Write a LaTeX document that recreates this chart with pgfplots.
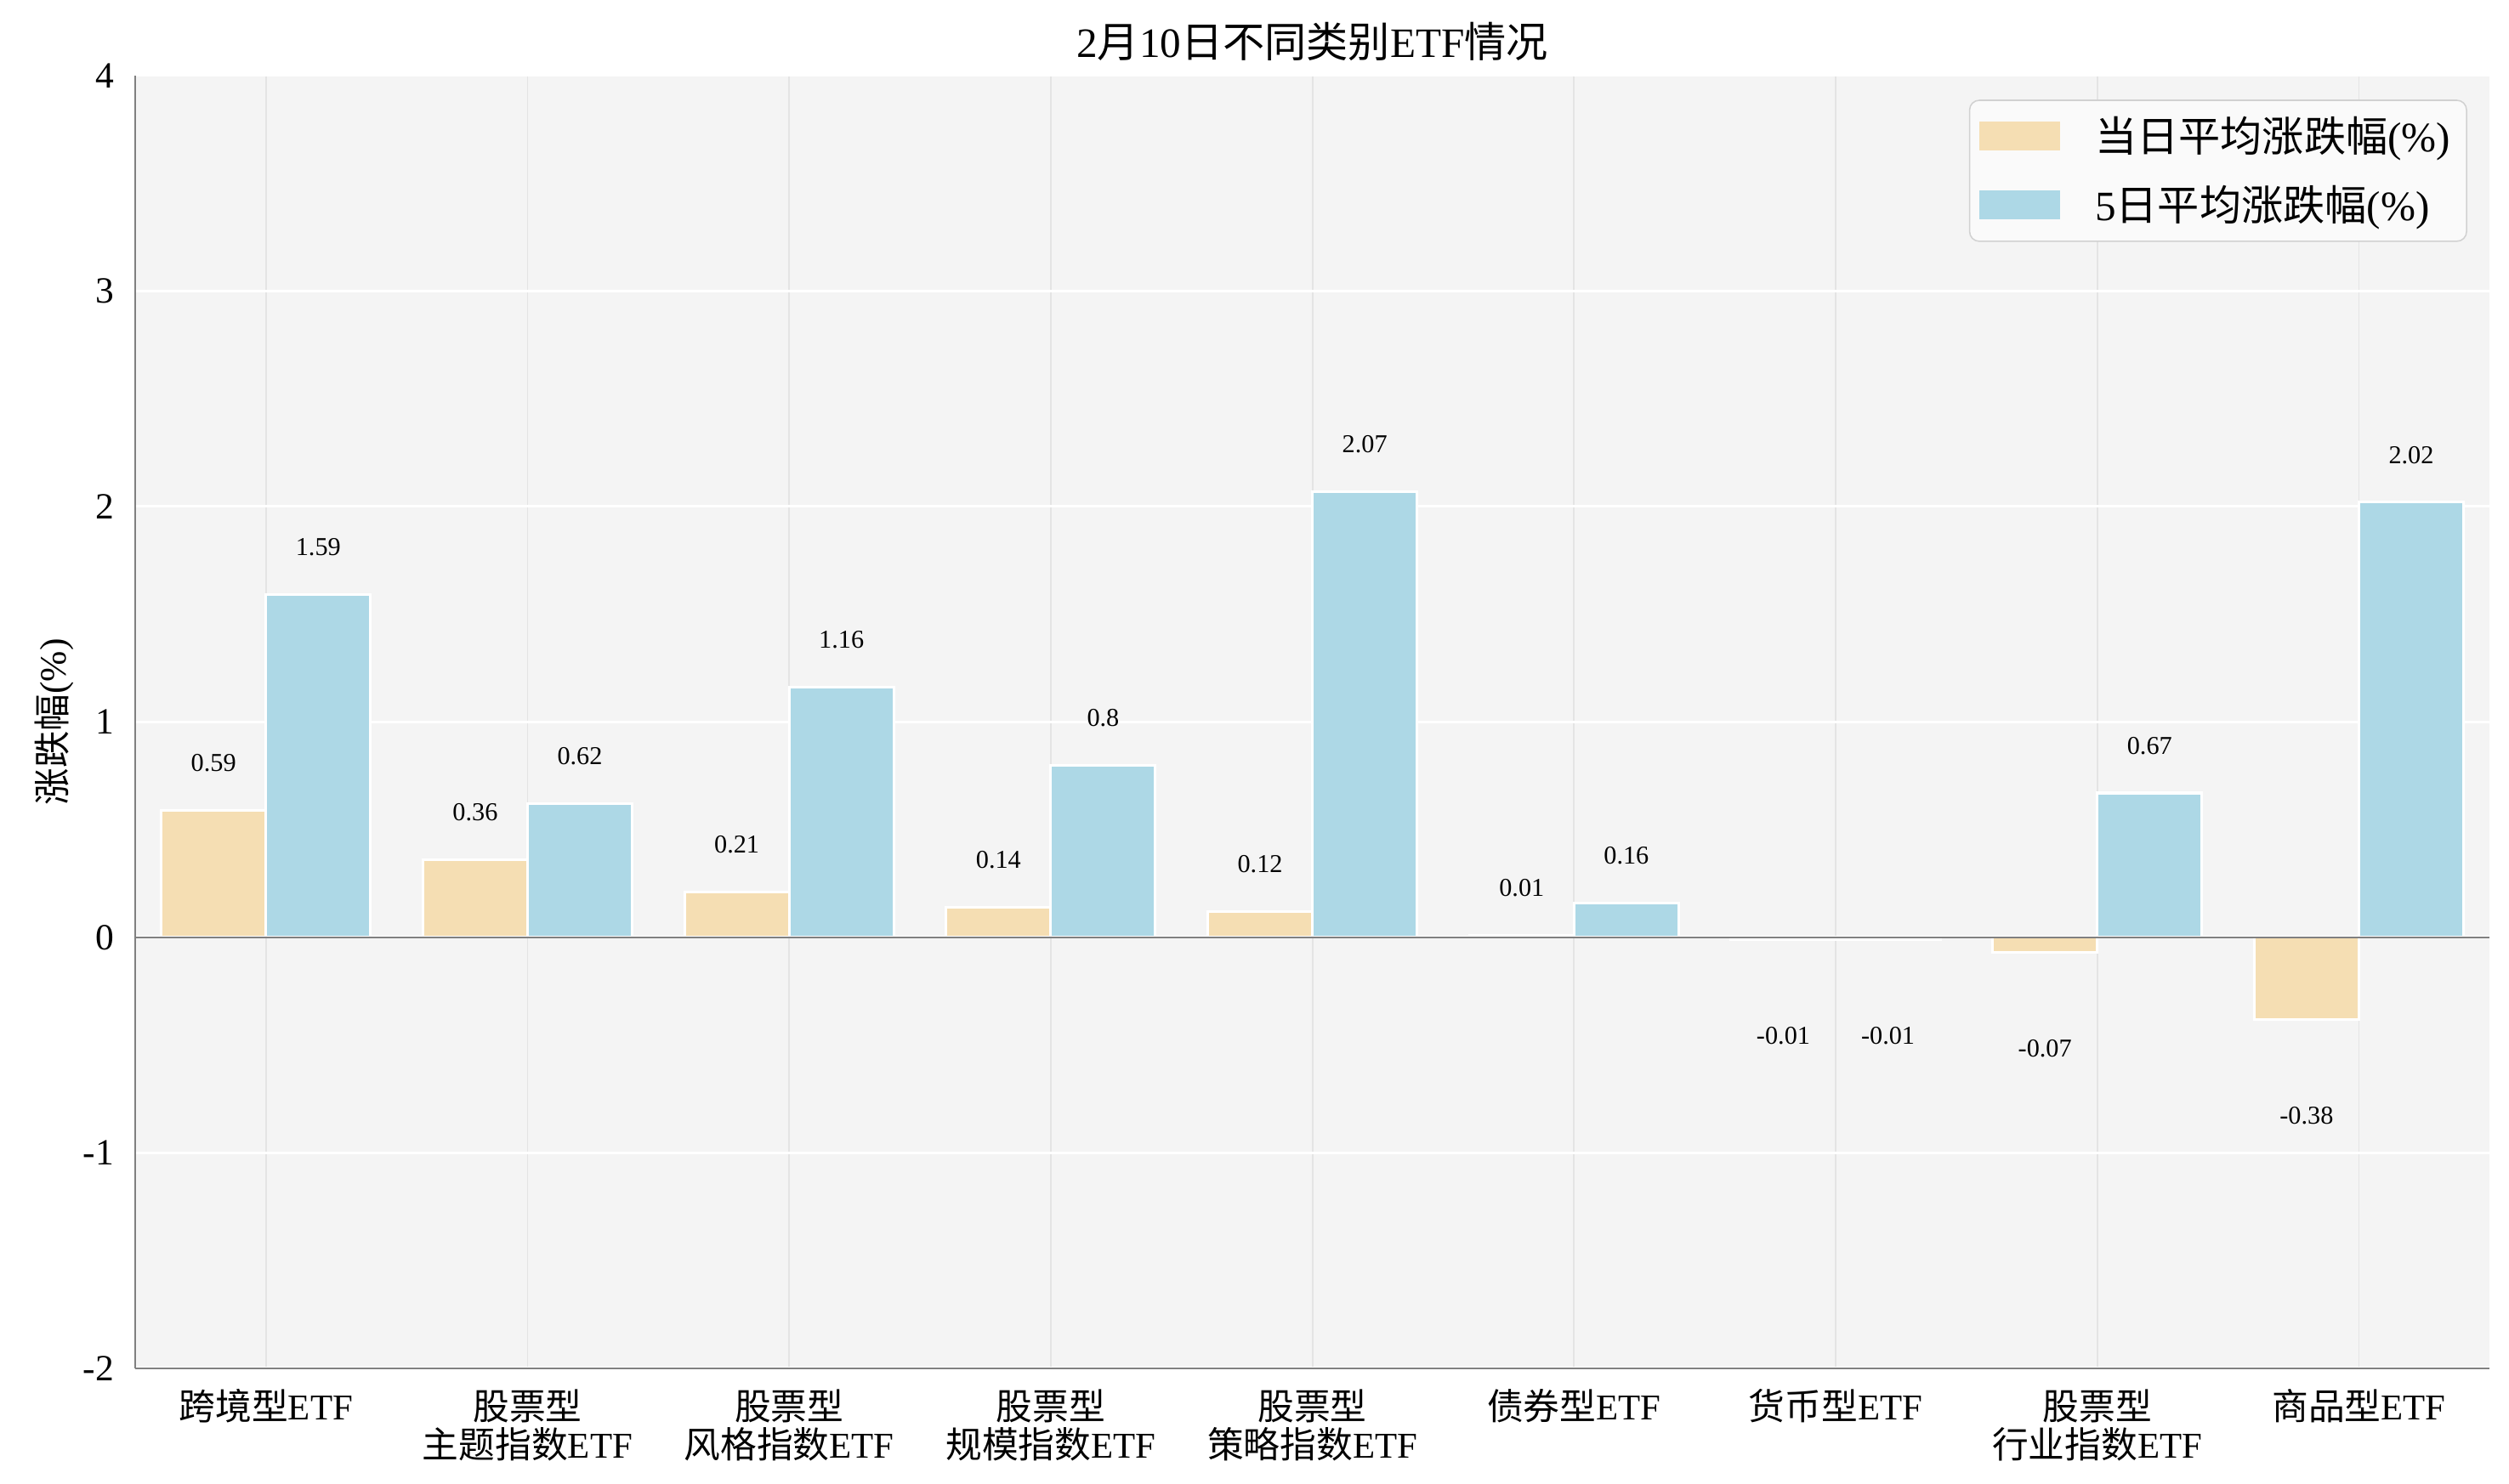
\documentclass[border=0pt]{standalone}
\usepackage{fontspec}
\setmainfont{Liberation Serif}
\newfontfamily\cjk{Noto Sans CJK SC}
\usepackage{pgfplots}
\pgfplotsset{compat=1.18}

\definecolor{wheatc}{RGB}{245,222,179}
\definecolor{lblue}{RGB}{173,216,230}
\definecolor{bgc}{RGB}{244,244,244}
\definecolor{vgrid}{RGB}{228,228,228}
\definecolor{spine}{RGB}{128,128,128}

\begin{document}
\begin{tikzpicture}
\begin{axis}[
  scale only axis, width=732pt, height=402pt,
  xmin=-0.5, xmax=8.5, ymin=-2, ymax=4,
  ybar=0pt, bar width=0.4,
  xtick={0,...,8},
  xticklabels={
    {{\cjk 跨境型}ETF},
    {{\cjk 股票型}\\{\cjk 主题指数}ETF},
    {{\cjk 股票型}\\{\cjk 风格指数}ETF},
    {{\cjk 股票型}\\{\cjk 规模指数}ETF},
    {{\cjk 股票型}\\{\cjk 策略指数}ETF},
    {{\cjk 债券型}ETF},
    {{\cjk 货币型}ETF},
    {{\cjk 股票型}\\{\cjk 行业指数}ETF},
    {{\cjk 商品型}ETF}},
  xticklabel style={font=\fontsize{11.3}{12}\selectfont, align=center, yshift=-3pt},
  ytick={-2,...,4},
  yticklabel style={font=\fontsize{11.5}{13}\selectfont, xshift=-3pt},
  /pgf/number format/assume math mode=true,
  axis background/.style={fill=bgc},
  axis x line*=bottom, axis y line*=left,
  axis line style={spine, line width=0.6pt, -},
  major tick length=0pt,
  xmajorgrids, ymajorgrids,
  x grid style={vgrid, line width=0.5pt},
  y grid style={white, line width=0.8pt},
  title={2{\cjk 月}10{\cjk 日不同类别}ETF{\cjk 情况}},
  title style={font=\fontsize{13}{15}\selectfont, yshift=-5pt},
  ylabel={{\cjk 涨跌幅}(\%)},
  ylabel style={font=\fontsize{11.5}{13}\selectfont},
  ylabel shift=-4pt,
  legend style={at={(1,1)}, anchor=north east, xshift=-7pt, yshift=-7.5pt,
    draw=black!18, rounded corners=3pt, fill=white!98!black,
    font=\fontsize{13}{15}\selectfont, inner xsep=3pt, inner ysep=3pt, row sep=5pt},
  legend cell align=left,
  legend image code/.code={\fill[#1, draw=none, sharp corners] (0pt,-4.5pt) rectangle (25pt,4.5pt); \path[draw=none, fill=none] (34pt,0pt) circle (0pt);},
  visualization depends on={rawy \as \rawy},
  nodes near coords={\pgfmathprintnumber[fixed, precision=2, assume math mode=true]{\pgfplotspointmeta}},
  nodes near coords style={font=\fontsize{8}{9}\selectfont, anchor=center, yshift={ifthenelse(\rawy<0,-30,14.7)}},
]
\addplot[fill=wheatc, draw=white, line width=0.8pt, bar shift=-0.2] coordinates {
  (0,0.59) (1,0.36) (2,0.21) (3,0.14) (4,0.12) (5,0.01) (6,-0.01) (7,-0.07) (8,-0.38)
};
\addlegendentry{{\cjk 当日平均涨跌幅}(\%)}
\addplot[fill=lblue, draw=white, line width=0.8pt, bar shift=0.2] coordinates {
  (0,1.59) (1,0.62) (2,1.16) (3,0.8) (4,2.07) (5,0.16) (6,-0.01) (7,0.67) (8,2.02)
};
\addlegendentry{5{\cjk 日平均涨跌幅}(\%)}
\draw[spine, line width=0.7pt] (axis cs:-0.5,0) -- (axis cs:8.5,0);
\end{axis}
\path (current axis.south west) ++(-42pt,-36pt) coordinate (bbsw);
\path (current axis.north east) ++(6pt,23.5pt) coordinate (bbne);
\path (bbsw) rectangle (bbne);
\end{tikzpicture}
\end{document}
